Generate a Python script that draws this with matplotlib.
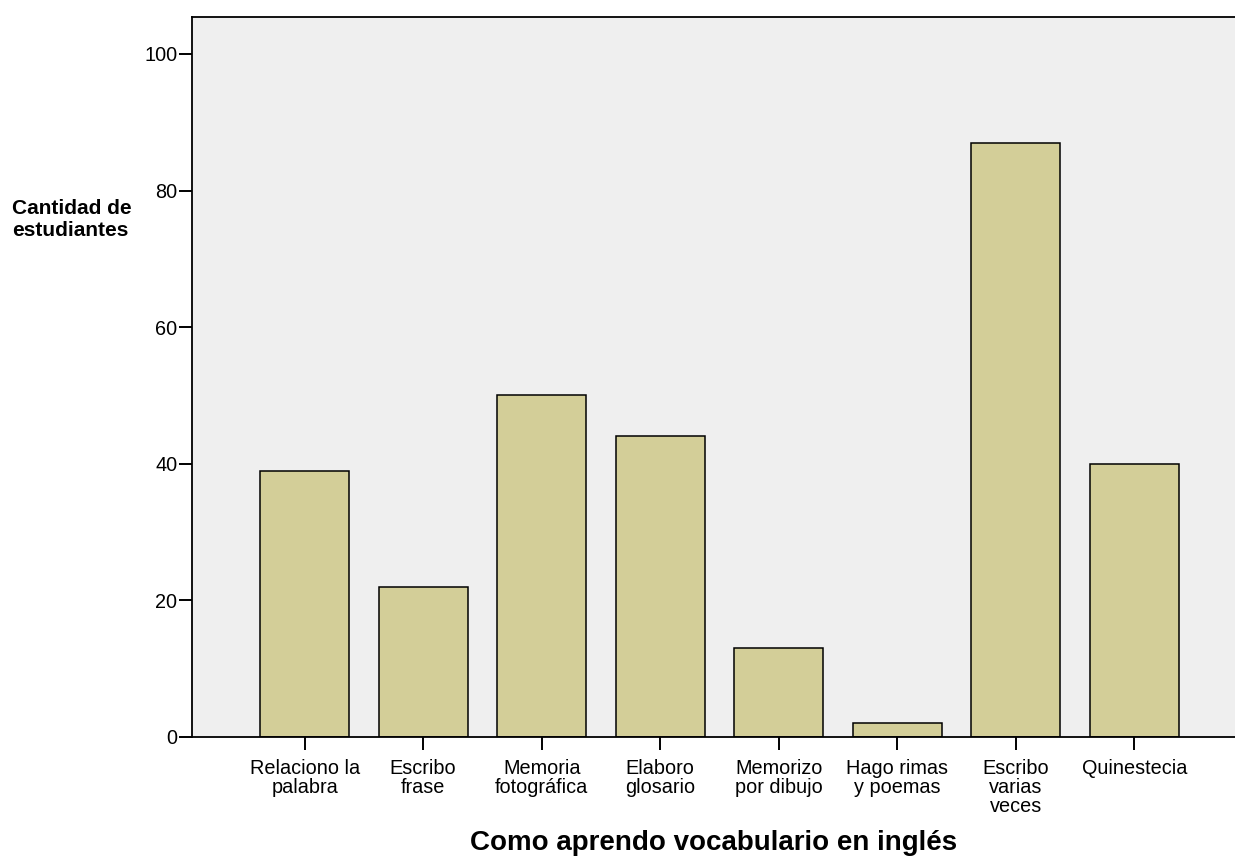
import matplotlib
matplotlib.use("Agg")
import matplotlib.pyplot as plt

# Como aprendo vocabulario en inglés
categorias = ["Relaciono la\npalabra", "Escribo\nfrase", "Memoria\nfotográfica",
              "Elaboro\nglosario", "Memorizo\npor dibujo", "Hago rimas\ny poemas",
              "Escribo\nvarias\nveces", "Quinestecia"]
estudiantes = [39, 22, 50, 44, 13, 2, 87, 40]

plt.rcParams['font.family'] = ['Liberation Sans', 'DejaVu Sans']

fig = plt.figure(figsize=(12.35, 8.58), dpi=100)
ax = fig.add_axes([192 / 1235, 121 / 858, 1 - 192 / 1235, 720 / 858])
ax.set_facecolor("#EFEFEF")

x = list(range(len(categorias)))
ax.bar(x, estudiantes, width=0.75, color="#D3CE98", edgecolor="black", linewidth=1.1, zorder=2)

ax.set_xlim(-0.95, 7.85)
ax.set_ylim(0, 105.4)
ax.set_yticks([0, 20, 40, 60, 80, 100])
ax.set_xticks(x)
ax.set_xticklabels(categorias, fontsize=14.3, linespacing=1.0)
ax.tick_params(axis="y", labelsize=14.3, length=9.5, width=1.4, pad=1)
ax.tick_params(axis="x", length=9.5, width=1.4, pad=6)

for s in ["left", "top", "bottom"]:
    ax.spines[s].set_linewidth(1.3)
ax.spines["right"].set_visible(False)

fig.text(714 / 1235, 1 - 850 / 858, "Como aprendo vocabulario en inglés", fontsize=20,
         fontweight="bold", ha="center", va="baseline")
fig.text(12 / 1235, 1 - 220 / 858, "Cantidad de\nestudiantes", fontsize=15,
         fontweight="bold", ha="left", va="center", linespacing=1.2)

fig.savefig("out.png", dpi=100)
